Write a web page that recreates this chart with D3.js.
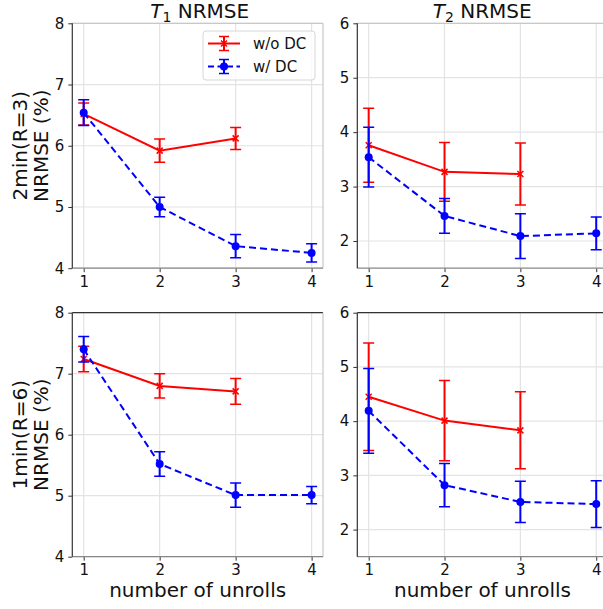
<!DOCTYPE html>
<html>
<head>
<meta charset="utf-8">
<script src="https://cdn.jsdelivr.net/npm/d3@7"></script>
<style>
  html, body { margin: 0; padding: 0; background: #fff; }
  svg { display: block; font-family: "DejaVu Sans", sans-serif; }
</style>
</head>
<body>
<svg id="chart" width="603" height="609"></svg>
<script>
// Number of unrolls on the x axis
const unrolls = [1, 2, 3, 4];
const unrollTicks = [1, 2, 3, 4];

// T1 NRMSE (%), 2 min acquisition (R=3)
const t1_2min_noDC = [6.52, 5.92, 6.12];
const t1_2min_noDC_sd = [0.18, 0.19, 0.18];
const t1_2min_DC = [6.54, 5.00, 4.36, 4.25];
const t1_2min_DC_sd = [0.21, 0.16, 0.19, 0.15];

// T2 NRMSE (%), 2 min acquisition (R=3)
const t2_2min_noDC = [3.76, 3.27, 3.23];
const t2_2min_noDC_sd = [0.68, 0.54, 0.57];
const t2_2min_DC = [3.54, 2.46, 2.09, 2.14];
const t2_2min_DC_sd = [0.55, 0.32, 0.41, 0.30];

// T1 NRMSE (%), 1 min acquisition (R=6)
const t1_1min_noDC = [7.24, 6.80, 6.71];
const t1_1min_noDC_sd = [0.21, 0.20, 0.21];
const t1_1min_DC = [7.40, 5.52, 5.01, 5.01];
const t1_1min_DC_sd = [0.21, 0.20, 0.20, 0.14];

// T2 NRMSE (%), 1 min acquisition (R=6)
const t2_1min_noDC = [4.45, 4.01, 3.83];
const t2_1min_noDC_sd = [0.99, 0.74, 0.71];
const t2_1min_DC = [4.19, 2.82, 2.51, 2.47];
const t2_1min_DC_sd = [0.78, 0.40, 0.38, 0.43];

const t1Ticks = [4, 5, 6, 7, 8];
const t2Ticks = [2, 3, 4, 5, 6];
const rowLabels = [["2min(R=3)", "NRMSE (%)"], ["1min(R=6)", "NRMSE (%)"]];
const legendLabels = ["w/o DC", "w/ DC"];

const RED = "#ff0000", BLUE = "#0000ff";

const svg = d3.select("#chart");

// panel frames (pixels)
const cols = [{ left: 72.3, right: 323 }, { left: 357.3, right: 607.6 }];
const rows = [{ top: 23.3, bottom: 268.2 }, { top: 312.7, bottom: 556.7 }];

const panels = [
  { r: 0, c: 0, dom: [4, 8], ticks: t1Ticks, a: t1_2min_noDC, as: t1_2min_noDC_sd, b: t1_2min_DC, bs: t1_2min_DC_sd },
  { r: 0, c: 1, dom: [1.5, 6], ticks: t2Ticks, a: t2_2min_noDC, as: t2_2min_noDC_sd, b: t2_2min_DC, bs: t2_2min_DC_sd },
  { r: 1, c: 0, dom: [4, 8], ticks: t1Ticks, a: t1_1min_noDC, as: t1_1min_noDC_sd, b: t1_1min_DC, bs: t1_1min_DC_sd },
  { r: 1, c: 1, dom: [1.5, 6], ticks: t2Ticks, a: t2_1min_noDC, as: t2_1min_noDC_sd, b: t2_1min_DC, bs: t2_1min_DC_sd }
];

panels.forEach((p, i) => {
  const fr = { ...cols[p.c], ...rows[p.r] };
  const x = d3.scaleLinear().domain([0.85, 4.15]).range([fr.left, fr.right]);
  const y = d3.scaleLinear().domain(p.dom).range([fr.bottom, fr.top]);
  const g = svg.append("g");

  const clipId = "clip" + i;
  svg.append("clipPath").attr("id", clipId).append("rect")
    .attr("x", fr.left).attr("y", fr.top - 10)
    .attr("width", fr.right - fr.left).attr("height", fr.bottom - fr.top + 20);

  // grid
  g.append("g").selectAll("line").data(unrollTicks).join("line")
    .attr("x1", d => x(d)).attr("x2", d => x(d))
    .attr("y1", fr.top).attr("y2", fr.bottom)
    .attr("stroke", "#e3e3e3").attr("stroke-width", 1.2);
  g.append("g").selectAll("line").data(p.ticks).join("line")
    .attr("x1", fr.left).attr("x2", fr.right)
    .attr("y1", d => y(d)).attr("y2", d => y(d))
    .attr("stroke", "#e3e3e3").attr("stroke-width", 1.2);

  // axes
  const yAxis = d3.axisLeft(y).tickValues(p.ticks).tickFormat(d3.format("d")).tickSize(4).tickPadding(4);
  const ya = g.append("g").attr("transform", `translate(${fr.left},0)`).call(yAxis);
  const xAxis = d3.axisBottom(x).tickValues(unrollTicks).tickFormat(d3.format("d")).tickSize(4).tickPadding(4);
  const xa = g.append("g").attr("transform", `translate(0,${fr.bottom})`).call(xAxis);
  [ya, xa].forEach(a => {
    a.select(".domain").remove();
    a.selectAll(".tick line").attr("stroke", "#333");
    a.selectAll(".tick text").attr("font-size", 15).attr("fill", "#111")
      .attr("font-family", "DejaVu Sans, sans-serif");
  });

  // spines
  const spine = (x1, y1, x2, y2, col) => g.append("line")
    .attr("x1", x1).attr("y1", y1).attr("x2", x2).attr("y2", y2)
    .attr("stroke", col).attr("stroke-width", 1.2);
  spine(fr.left, fr.top, fr.right, fr.top, p.r === 0 ? "#c8c8c8" : "#333");
  spine(fr.right, fr.top, fr.right, fr.bottom, "#c8c8c8");
  spine(fr.left, fr.bottom, fr.right, fr.bottom, "#888");
  spine(fr.left, fr.top, fr.left, fr.bottom, "#333");

  const plot = g.append("g").attr("clip-path", `url(#${clipId})`);

  function series(vals, sds, color, dashed, marker) {
    const pts = vals.map((v, k) => ({ u: unrolls[k], v, s: sds[k] }));
    const sg = plot.append("g");
    sg.append("path").datum(pts)
      .attr("d", d3.line().x(d => x(d.u)).y(d => y(d.v)))
      .attr("fill", "none").attr("stroke", color).attr("stroke-width", 2)
      .attr("stroke-dasharray", dashed ? "7,4" : null);
    const eb = sg.append("g").selectAll("g").data(pts).join("g");
    eb.append("line").attr("x1", d => x(d.u)).attr("x2", d => x(d.u))
      .attr("y1", d => y(d.v - d.s)).attr("y2", d => y(d.v + d.s))
      .attr("stroke", color).attr("stroke-width", 2);
    [-1, 1].forEach(sgn => {
      eb.append("line").attr("x1", d => x(d.u) - 5.5).attr("x2", d => x(d.u) + 5.5)
        .attr("y1", d => y(d.v + sgn * d.s)).attr("y2", d => y(d.v + sgn * d.s))
        .attr("stroke", color).attr("stroke-width", 1.5);
    });
    if (marker === "o") {
      sg.append("g").selectAll("circle").data(pts).join("circle")
        .attr("cx", d => x(d.u)).attr("cy", d => y(d.v)).attr("r", 4)
        .attr("fill", color);
    } else {
      sg.append("g").selectAll("path").data(pts).join("path")
        .attr("d", d => {
          const cx = x(d.u), cy = y(d.v), s = 3;
          return `M${cx - s},${cy - s}L${cx + s},${cy + s}M${cx - s},${cy + s}L${cx + s},${cy - s}`;
        })
        .attr("stroke", color).attr("stroke-width", 1.5);
    }
  }
  series(p.a, p.as, RED, false, "x");
  series(p.b, p.bs, BLUE, true, "o");

  // row labels
  if (p.c === 0) {
    const cy = (fr.top + fr.bottom) / 2;
    rowLabels[p.r].forEach((t, k) => {
      svg.append("text")
        .attr("transform", `translate(${27 + k * 21},${cy}) rotate(-90)`)
        .attr("text-anchor", "middle").attr("font-size", 20).attr("fill", "#111")
        .text(t);
    });
  }
  // column titles
  if (p.r === 0) {
    const t = svg.append("text").attr("x", (fr.left + Math.min(fr.right, 603) + (p.c === 1 ? 4 : 4)) / 2)
      .attr("y", 18).attr("text-anchor", "middle").attr("font-size", 20).attr("fill", "#111");
    t.append("tspan").attr("font-style", "italic").text("T");
    t.append("tspan").attr("font-size", 14).attr("dy", 4).text(p.c === 0 ? "1" : "2");
    t.append("tspan").attr("dy", -4).text(" NRMSE");
  }
  // x labels
  if (p.r === 1) {
    svg.append("text").attr("x", (fr.left + fr.right) / 2).attr("y", 597)
      .attr("text-anchor", "middle").attr("font-size", 20).attr("fill", "#111")
      .text("number of unrolls");
  }
});

// legend in the first panel
const lg = svg.append("g");
lg.append("rect").attr("x", 203).attr("y", 31).attr("width", 112).attr("height", 49)
  .attr("rx", 3).attr("fill", "#fff").attr("fill-opacity", 0.8)
  .attr("stroke", "#d6d6d6").attr("stroke-width", 1);
const legendRows = [
  { label: legendLabels[0], color: RED, dashed: false, marker: "x", y: 43.5 },
  { label: legendLabels[1], color: BLUE, dashed: true, marker: "o", y: 66.5 }
];
legendRows.forEach(r => {
  const x0 = 208, x1 = 240, cx = (x0 + x1) / 2;
  lg.append("line").attr("x1", x0).attr("x2", x1).attr("y1", r.y).attr("y2", r.y)
    .attr("stroke", r.color).attr("stroke-width", 2)
    .attr("stroke-dasharray", r.dashed ? "6,3.5" : null);
  lg.append("line").attr("x1", cx).attr("x2", cx).attr("y1", r.y - 7).attr("y2", r.y + 7)
    .attr("stroke", r.color).attr("stroke-width", 2);
  [-7, 7].forEach(o => lg.append("line").attr("x1", cx - 5).attr("x2", cx + 5)
    .attr("y1", r.y + o).attr("y2", r.y + o).attr("stroke", r.color).attr("stroke-width", 1.5));
  if (r.marker === "o") {
    lg.append("circle").attr("cx", cx).attr("cy", r.y).attr("r", 4).attr("fill", r.color);
  } else {
    lg.append("path").attr("d", `M${cx - 3},${r.y - 3}L${cx + 3},${r.y + 3}M${cx - 3},${r.y + 3}L${cx + 3},${r.y - 3}`)
      .attr("stroke", r.color).attr("stroke-width", 1.5);
  }
  lg.append("text").attr("x", 253).attr("y", r.y + 5.5).attr("font-size", 15).attr("fill", "#111")
    .text(r.label);
});
</script>
</body>
</html>
